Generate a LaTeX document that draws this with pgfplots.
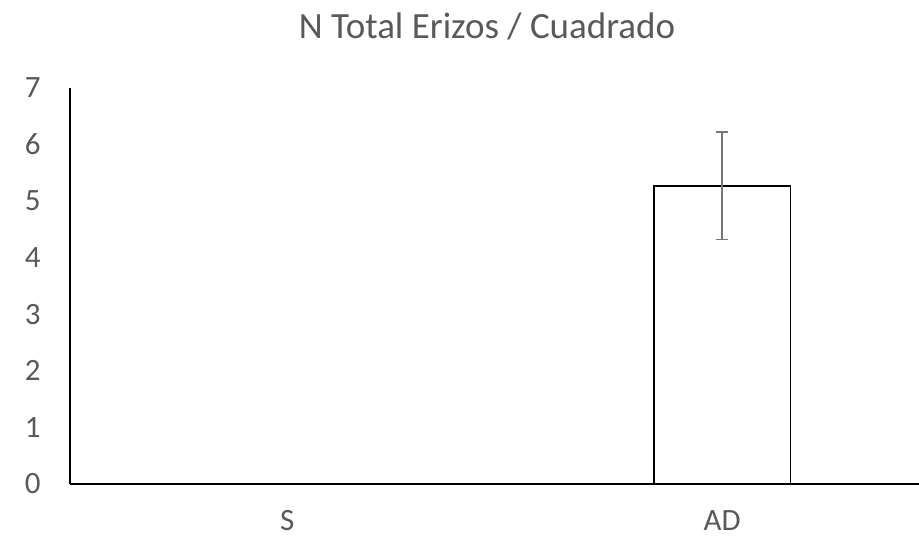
\documentclass[border=0pt]{standalone}
\usepackage{pgfplots}
\pgfplotsset{compat=1.18}
\usepackage{fontspec}
\setmainfont{Carlito}
\definecolor{txt}{HTML}{595959}
\definecolor{errc}{HTML}{767676}
\begin{document}
\begin{tikzpicture}
\path[use as bounding box] (0,0) rectangle (919bp,538bp);
\begin{axis}[
  at={(70bp,54bp)}, anchor=south west,
  scale only axis, width=849bp, height=396bp,
  xmin=-0.5, xmax=1.453, ymin=0, ymax=7,
  axis x line*=bottom, axis y line*=left,
  axis line style={black, line width=1.4bp},
  xtick={0,1}, xticklabels={S,AD},
  ytick={0,1,...,7},
  major tick length=0pt,
  tick style={draw=none},
  /pgf/number format/assume math mode=true,
  ticklabel style={font=\fontsize{31bp}{34bp}\selectfont, text=txt},
  yticklabel style={xshift=-26bp},
  xticklabel style={inner sep=0pt, yshift=-26bp},
  ybar, bar width=0.315,
  clip=false,
]
\addplot[draw=black, fill=white, line width=1.8bp,
  error bars/.cd, y dir=both, y explicit,
  error bar style={errc, line width=1.6bp},
  error mark options={rotate=90, errc, mark size=6bp, line width=1.6bp}]
  coordinates {(1,5.27) +- (0,0.95)};
\end{axis}
\node[text=txt, font=\fontsize{37bp}{40bp}\selectfont, anchor=base] at (487bp,499bp) {N Total Erizos / Cuadrado};
\end{tikzpicture}
\end{document}
